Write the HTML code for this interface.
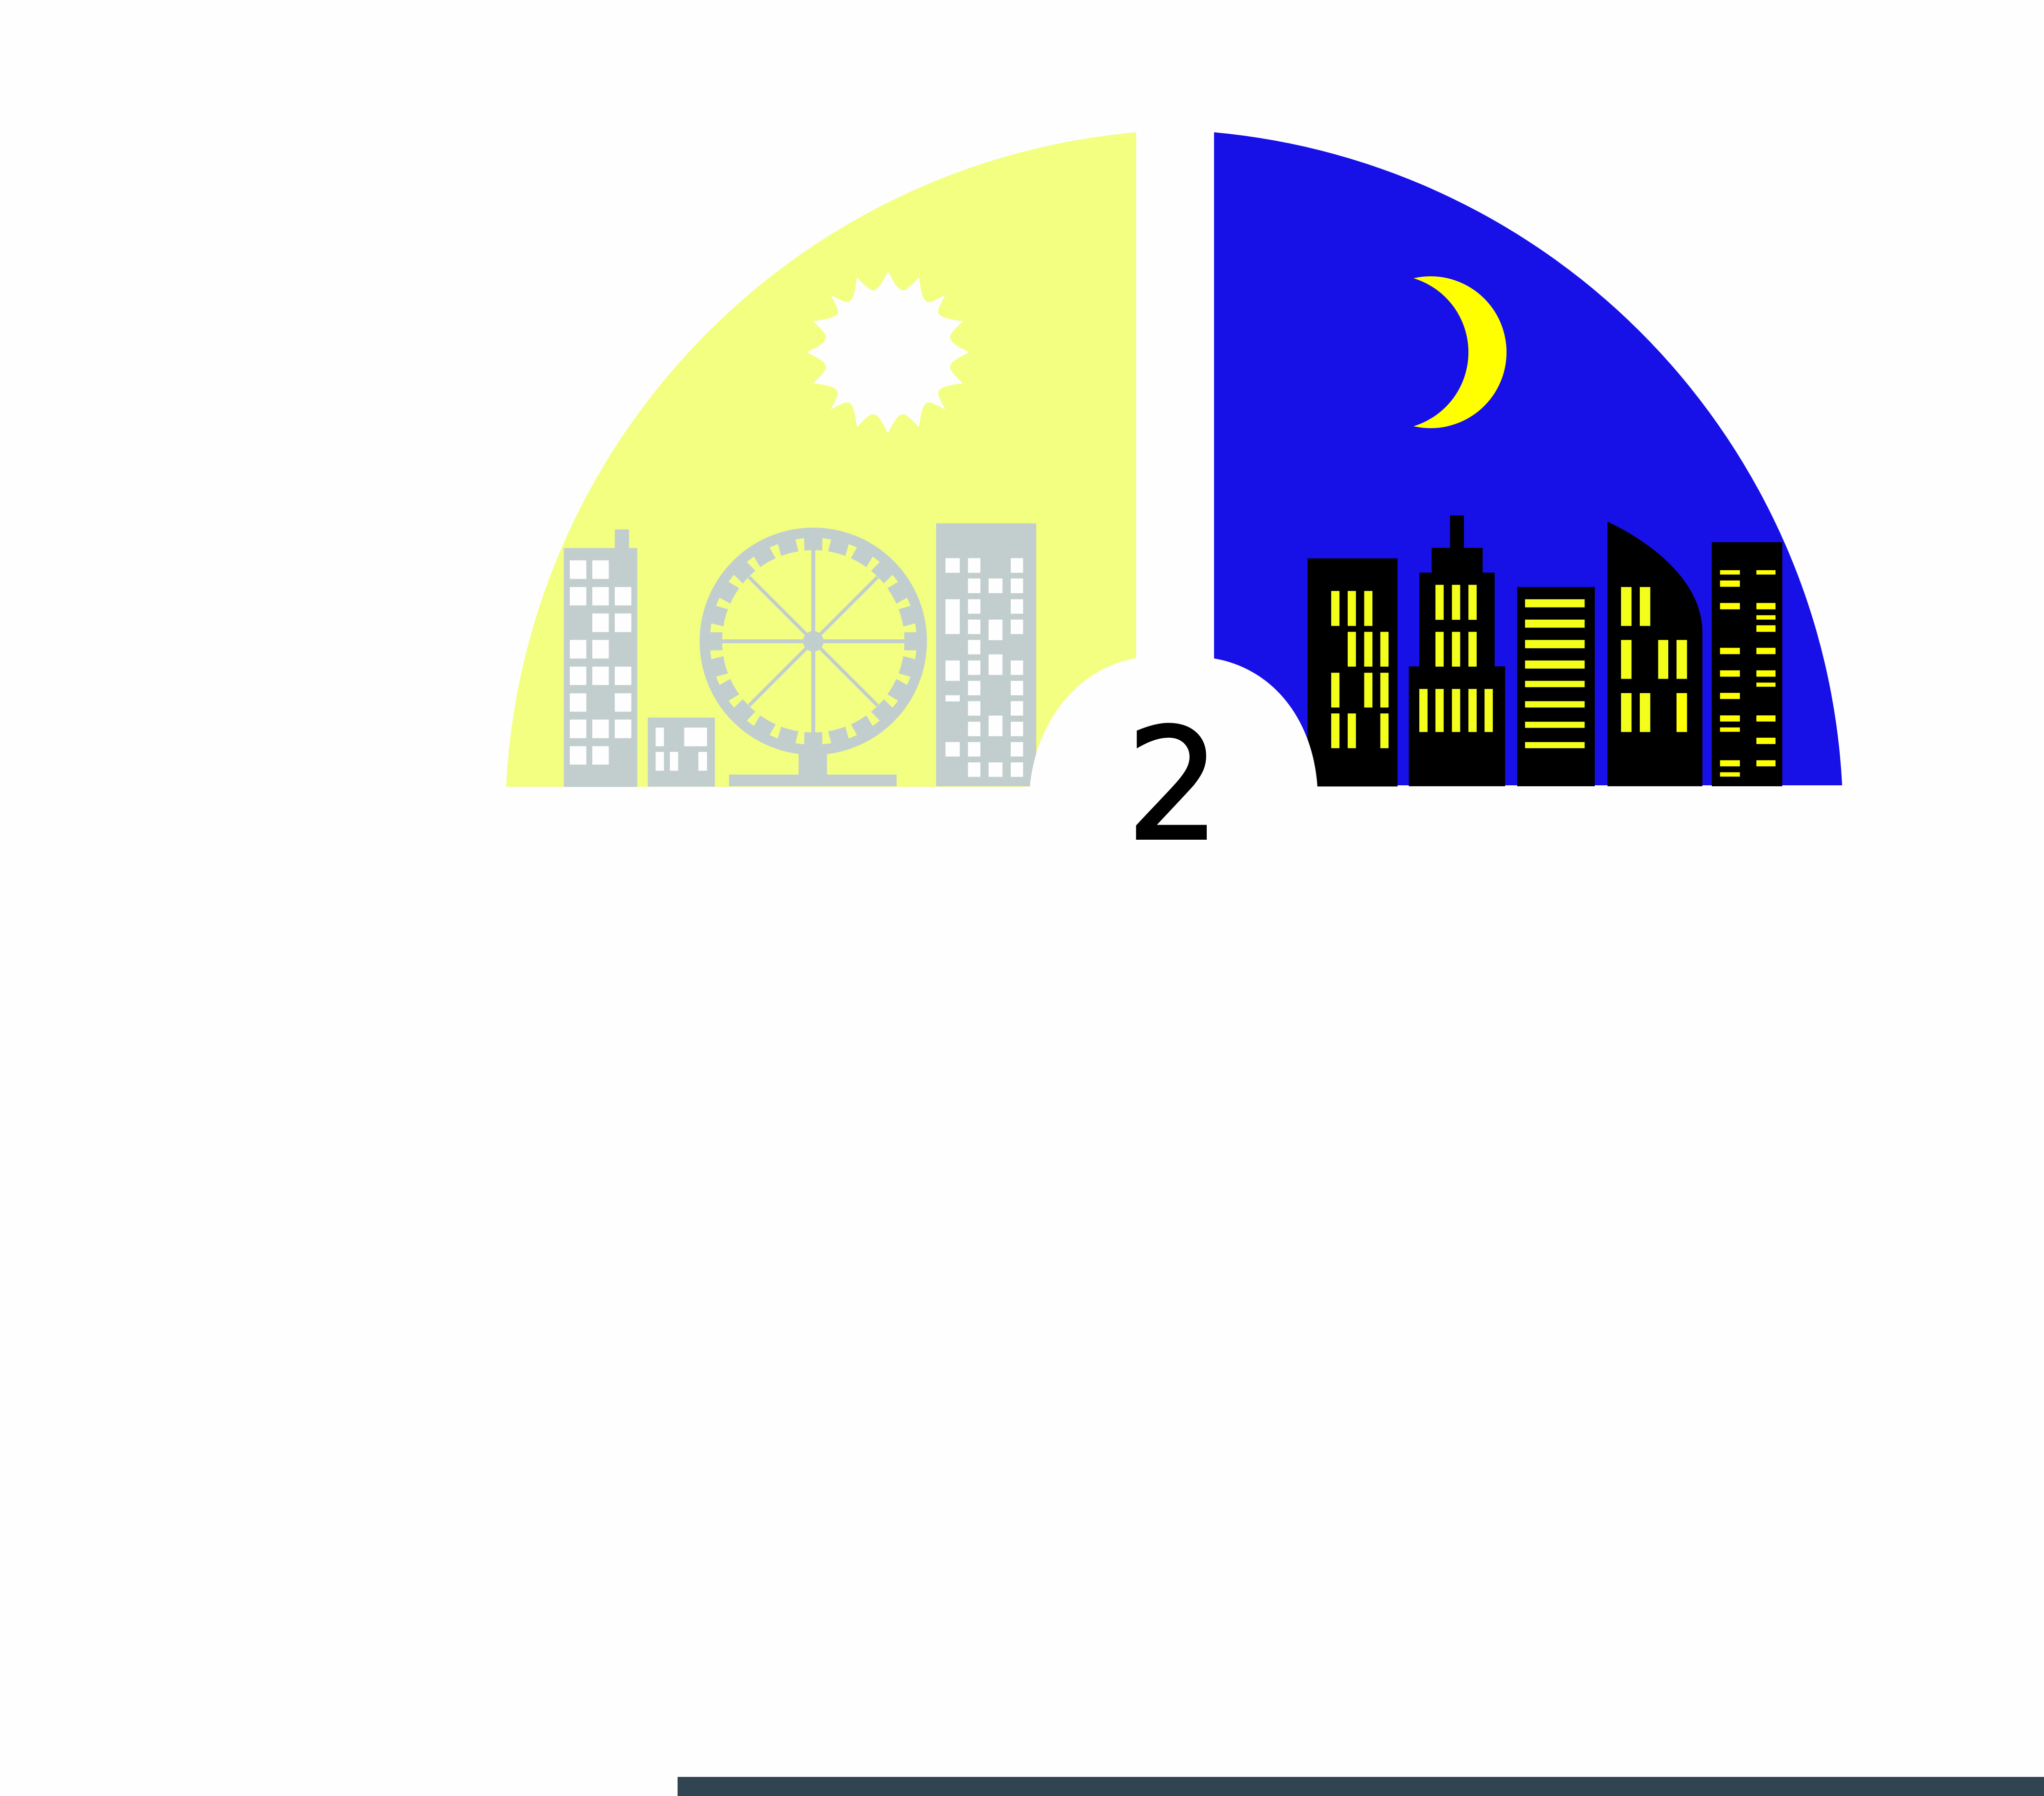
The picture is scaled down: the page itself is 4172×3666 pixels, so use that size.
<!DOCTYPE html>
<html lang="en">
<head>
<meta charset="utf-8">
<title>Day and night city gauge</title>
<style>
html,body{margin:0;padding:0;background:#fefefe;}
svg{display:block;}
</style>
</head>
<body>
<svg xmlns="http://www.w3.org/2000/svg" width="4172" height="3666" viewBox="0 0 4172 3666">
<rect x="0" y="0" width="4172" height="3666" fill="#fefefe"/>
<path d="M2319,270 A1412,1412 0 0 0 1033,1606 L2319,1606 Z" fill="#f3ff80"/>
<path d="M2478,270 A1412,1412 0 0 1 3760,1603 L2478,1603 Z" fill="#1711e8"/>

<path id="sun" d="" fill="#fefefe"/>
<path d="M2885,568 A155,155 0 1 1 2885,870 A157.7,157.7 0 0 0 2885,568 Z" fill="#ffff00"/>

<g transform="translate(1000,1000) scale(0.76531,0.44643)">
<g fill="#fefefe">
<polygon fill="#c2cece" points="197,1358 197,266 333,266 333,181 371,181 371,266 393,266 393,1358"/>
<rect x="213" y="322" width="44" height="85"/>
<rect x="273" y="322" width="44" height="85"/>
<rect x="213" y="444" width="44" height="84"/>
<rect x="273" y="444" width="44" height="84"/>
<rect x="333" y="444" width="44" height="84"/>
<rect x="273" y="565" width="44" height="85"/>
<rect x="333" y="565" width="44" height="85"/>
<rect x="213" y="686" width="44" height="85"/>
<rect x="273" y="686" width="44" height="85"/>
<rect x="213" y="808" width="44" height="84"/>
<rect x="273" y="808" width="44" height="84"/>
<rect x="333" y="808" width="44" height="84"/>
<rect x="213" y="930" width="44" height="84"/>
<rect x="333" y="930" width="44" height="84"/>
<rect x="213" y="1050" width="44" height="85"/>
<rect x="273" y="1050" width="44" height="85"/>
<rect x="333" y="1050" width="44" height="85"/>
<rect x="213" y="1172" width="44" height="84"/>
<rect x="273" y="1172" width="44" height="84"/>
</g>
<g fill="#fefefe">
<rect fill="#c2cece" x="421" y="1041" width="179" height="316"/>
<rect x="442" y="1087" width="22" height="85"/>
<rect x="518" y="1087" width="61" height="85"/>
<rect x="442" y="1198" width="22" height="86"/>
<rect x="480" y="1198" width="22" height="86"/>
<rect x="556" y="1198" width="23" height="86"/>
</g>
<g fill="#fefefe">
<rect fill="#c2cece" x="1190" y="153" width="267" height="1202"/>
<rect x="1215" y="312" width="38" height="67"/>
<rect x="1215" y="500" width="38" height="159"/>
<rect x="1215" y="780" width="38" height="93"/>
<rect x="1215" y="939" width="38" height="28"/>
<rect x="1215" y="1153" width="38" height="66"/>
<rect x="1275" y="312" width="33" height="67"/>
<rect x="1275" y="405" width="33" height="67"/>
<rect x="1275" y="500" width="33" height="66"/>
<rect x="1275" y="593" width="33" height="66"/>
<rect x="1275" y="686" width="33" height="66"/>
<rect x="1275" y="780" width="33" height="66"/>
<rect x="1275" y="873" width="33" height="66"/>
<rect x="1275" y="966" width="33" height="66"/>
<rect x="1275" y="1060" width="33" height="66"/>
<rect x="1275" y="1153" width="33" height="66"/>
<rect x="1275" y="1246" width="33" height="66"/>
<rect x="1330" y="405" width="37" height="67"/>
<rect x="1330" y="593" width="37" height="94"/>
<rect x="1330" y="752" width="37" height="94"/>
<rect x="1330" y="1032" width="37" height="94"/>
<rect x="1330" y="1246" width="37" height="66"/>
<rect x="1389" y="312" width="33" height="67"/>
<rect x="1389" y="405" width="33" height="67"/>
<rect x="1389" y="500" width="33" height="66"/>
<rect x="1389" y="593" width="33" height="66"/>
<rect x="1389" y="780" width="33" height="66"/>
<rect x="1389" y="873" width="33" height="66"/>
<rect x="1389" y="966" width="33" height="66"/>
<rect x="1389" y="1060" width="33" height="66"/>
<rect x="1389" y="1153" width="33" height="66"/>
<rect x="1389" y="1246" width="33" height="66"/>
</g>
</g>

<g>
<rect x="1630" y="1530" width="58" height="55" fill="#c2cece"/>
<rect x="1488" y="1581" width="342" height="24" fill="#c2cece"/>
<circle cx="1660" cy="1309" r="209" fill="none" stroke="#c2cece" stroke-width="46"/>
<g stroke="#c2cece" stroke-width="8">
<line x1="1660" y1="1123" x2="1660" y2="1495"/>
<line x1="1474" y1="1309" x2="1846" y2="1309"/>
<line x1="1529" y1="1178" x2="1791" y2="1440" stroke-width="7"/>
<line x1="1791" y1="1178" x2="1529" y2="1440" stroke-width="7"/>
</g>
<circle cx="1660" cy="1309" r="21" fill="#c2cece"/>
<g fill="#f3ff80">
<polygon transform="translate(1660,1309) rotate(7.5)" points="-6,-185 6,-185 9,-211 -9,-211"/>
<polygon transform="translate(1660,1309) rotate(22.5)" points="-6,-185 6,-185 9,-211 -9,-211"/>
<polygon transform="translate(1660,1309) rotate(37.5)" points="-6,-185 6,-185 9,-211 -9,-211"/>
<polygon transform="translate(1660,1309) rotate(52.5)" points="-6,-185 6,-185 9,-211 -9,-211"/>
<polygon transform="translate(1660,1309) rotate(67.5)" points="-6,-185 6,-185 9,-211 -9,-211"/>
<polygon transform="translate(1660,1309) rotate(82.5)" points="-6,-185 6,-185 9,-211 -9,-211"/>
<polygon transform="translate(1660,1309) rotate(97.5)" points="-6,-185 6,-185 9,-211 -9,-211"/>
<polygon transform="translate(1660,1309) rotate(112.5)" points="-6,-185 6,-185 9,-211 -9,-211"/>
<polygon transform="translate(1660,1309) rotate(127.5)" points="-6,-185 6,-185 9,-211 -9,-211"/>
<polygon transform="translate(1660,1309) rotate(142.5)" points="-6,-185 6,-185 9,-211 -9,-211"/>
<polygon transform="translate(1660,1309) rotate(157.5)" points="-6,-185 6,-185 9,-211 -9,-211"/>
<polygon transform="translate(1660,1309) rotate(172.5)" points="-6,-185 6,-185 9,-211 -9,-211"/>
<polygon transform="translate(1660,1309) rotate(187.5)" points="-6,-185 6,-185 9,-211 -9,-211"/>
<polygon transform="translate(1660,1309) rotate(202.5)" points="-6,-185 6,-185 9,-211 -9,-211"/>
<polygon transform="translate(1660,1309) rotate(217.5)" points="-6,-185 6,-185 9,-211 -9,-211"/>
<polygon transform="translate(1660,1309) rotate(232.5)" points="-6,-185 6,-185 9,-211 -9,-211"/>
<polygon transform="translate(1660,1309) rotate(247.5)" points="-6,-185 6,-185 9,-211 -9,-211"/>
<polygon transform="translate(1660,1309) rotate(262.5)" points="-6,-185 6,-185 9,-211 -9,-211"/>
<polygon transform="translate(1660,1309) rotate(277.5)" points="-6,-185 6,-185 9,-211 -9,-211"/>
<polygon transform="translate(1660,1309) rotate(292.5)" points="-6,-185 6,-185 9,-211 -9,-211"/>
<polygon transform="translate(1660,1309) rotate(307.5)" points="-6,-185 6,-185 9,-211 -9,-211"/>
<polygon transform="translate(1660,1309) rotate(322.5)" points="-6,-185 6,-185 9,-211 -9,-211"/>
<polygon transform="translate(1660,1309) rotate(337.5)" points="-6,-185 6,-185 9,-211 -9,-211"/>
<polygon transform="translate(1660,1309) rotate(352.5)" points="-6,-185 6,-185 9,-211 -9,-211"/>
</g>
</g>

<g transform="translate(2600,1000) scale(0.76531,0.44643)">
<g fill="#f3ff1a">
<rect fill="#000000" x="90" y="313" width="240" height="1043"/>
<rect x="153" y="462" width="22" height="160"/>
<rect x="197" y="462" width="22" height="160"/>
<rect x="241" y="462" width="22" height="160"/>
<rect x="197" y="649" width="22" height="159"/>
<rect x="241" y="649" width="22" height="159"/>
<rect x="284" y="649" width="22" height="159"/>
<rect x="153" y="836" width="22" height="159"/>
<rect x="241" y="836" width="22" height="159"/>
<rect x="284" y="836" width="22" height="159"/>
<rect x="153" y="1022" width="22" height="159"/>
<rect x="197" y="1022" width="22" height="159"/>
<rect x="284" y="1022" width="22" height="159"/>
</g>
<g fill="#f3ff1a">
<polygon fill="#000000" points="360,1355 360,807 388,807 388,378 421,378 421,265 470,265 470,117 507,117 507,265 557,265 557,378 589,378 589,807 617,807 617,1355"/>
<rect x="431" y="434" width="22" height="160"/>
<rect x="475" y="434" width="22" height="160"/>
<rect x="519" y="434" width="22" height="160"/>
<rect x="431" y="649" width="22" height="159"/>
<rect x="475" y="649" width="22" height="159"/>
<rect x="519" y="649" width="22" height="159"/>
<rect x="388" y="910" width="22" height="197"/>
<rect x="431" y="910" width="22" height="197"/>
<rect x="475" y="910" width="22" height="197"/>
<rect x="519" y="910" width="22" height="197"/>
<rect x="562" y="910" width="22" height="197"/>
</g>
<g fill="#f3ff1a">
<rect fill="#000000" x="649" y="444" width="207" height="911"/>
<rect x="670" y="500" width="159" height="37"/>
<rect x="670" y="593" width="159" height="37"/>
<rect x="670" y="686" width="159" height="38"/>
<rect x="670" y="780" width="159" height="37"/>
<rect x="670" y="873" width="159" height="29"/>
<rect x="670" y="966" width="159" height="29"/>
<rect x="670" y="1060" width="159" height="28"/>
<rect x="670" y="1153" width="159" height="28"/>
</g>
<g fill="#f3ff1a">
<path fill="#000000" d="M890,145 C1030,260 1143,440 1143,650 L1143,1355 L890,1355 Z"/>
<rect x="926" y="444" width="28" height="178"/>
<rect x="976" y="444" width="28" height="178"/>
<rect x="926" y="686" width="28" height="178"/>
<rect x="1025" y="686" width="27" height="178"/>
<rect x="1074" y="686" width="28" height="178"/>
<rect x="926" y="929" width="28" height="178"/>
<rect x="976" y="929" width="28" height="178"/>
<rect x="1074" y="929" width="28" height="178" fill="#ffff00"/>
</g>
<g fill="#ffff00">
<rect fill="#000000" x="1168" y="239" width="188" height="1116"/>
<rect x="1190" y="367" width="53" height="20"/>
<rect x="1190" y="414" width="53" height="29"/>
<rect x="1190" y="517" width="53" height="29"/>
<rect x="1190" y="722" width="53" height="29"/>
<rect x="1190" y="825" width="53" height="29"/>
<rect x="1190" y="928" width="53" height="28"/>
<rect x="1190" y="1031" width="53" height="28"/>
<rect x="1190" y="1086" width="53" height="20"/>
<rect x="1190" y="1236" width="53" height="28"/>
<rect x="1190" y="1291" width="53" height="20"/>
<rect x="1287" y="367" width="51" height="20"/>
<rect x="1287" y="517" width="51" height="29"/>
<rect x="1287" y="573" width="51" height="20"/>
<rect x="1287" y="619" width="51" height="30"/>
<rect x="1287" y="722" width="51" height="29"/>
<rect x="1287" y="825" width="51" height="29"/>
<rect x="1287" y="881" width="51" height="19"/>
<rect x="1287" y="1031" width="51" height="28"/>
<rect x="1287" y="1133" width="51" height="29"/>
<rect x="1287" y="1236" width="51" height="28"/>
</g>
</g>

<path d="M2319,1343 C2200,1365 2115,1470 2102,1606 L2689,1606 C2680,1470 2600,1365 2478,1344 Z" fill="#fefefe"/>
<rect x="2319" y="260" width="159" height="1100" fill="#fefefe"/>
<text transform="translate(2395,1712) scale(0.96,1)" x="0" y="0" font-family="'DejaVu Sans', sans-serif" font-size="316" text-anchor="middle" fill="#000000" stroke="#000000" stroke-width="4">2</text>
<rect x="1383" y="3627" width="2789" height="39" fill="#304452"/>
</svg>
<script>
var sunCx = 1812.5;
var sunCy = 719;
var sunTipR = 165.5;
var sunValleyR = 130;
var sunValleyOffsets = [12.8, 15, 7.6, 9.7];
function sunPt(r, deg) {
  var a = deg * Math.PI / 180;
  return (sunCx + r * Math.sin(a)).toFixed(1) + ',' + (sunCy - r * Math.cos(a)).toFixed(1);
}
var sunD = 'M' + sunPt(sunTipR, 0);
for (var i = 0; i < 16; i++) {
  var a0 = i * 22.5;
  var v = sunValleyOffsets[i % 4];
  var w = 22.5 - v;
  sunD += ' C' + sunPt(150, a0 + v * 0.25) + ' ' + sunPt(sunValleyR, a0 + v * 0.6) + ' ' + sunPt(sunValleyR, a0 + v);
  sunD += ' C' + sunPt(sunValleyR, a0 + v + w * 0.4) + ' ' + sunPt(150, a0 + 22.5 - w * 0.25) + ' ' + sunPt(sunTipR, a0 + 22.5);
}
document.getElementById('sun').setAttribute('d', sunD + ' Z');
</script>
</body>
</html>
